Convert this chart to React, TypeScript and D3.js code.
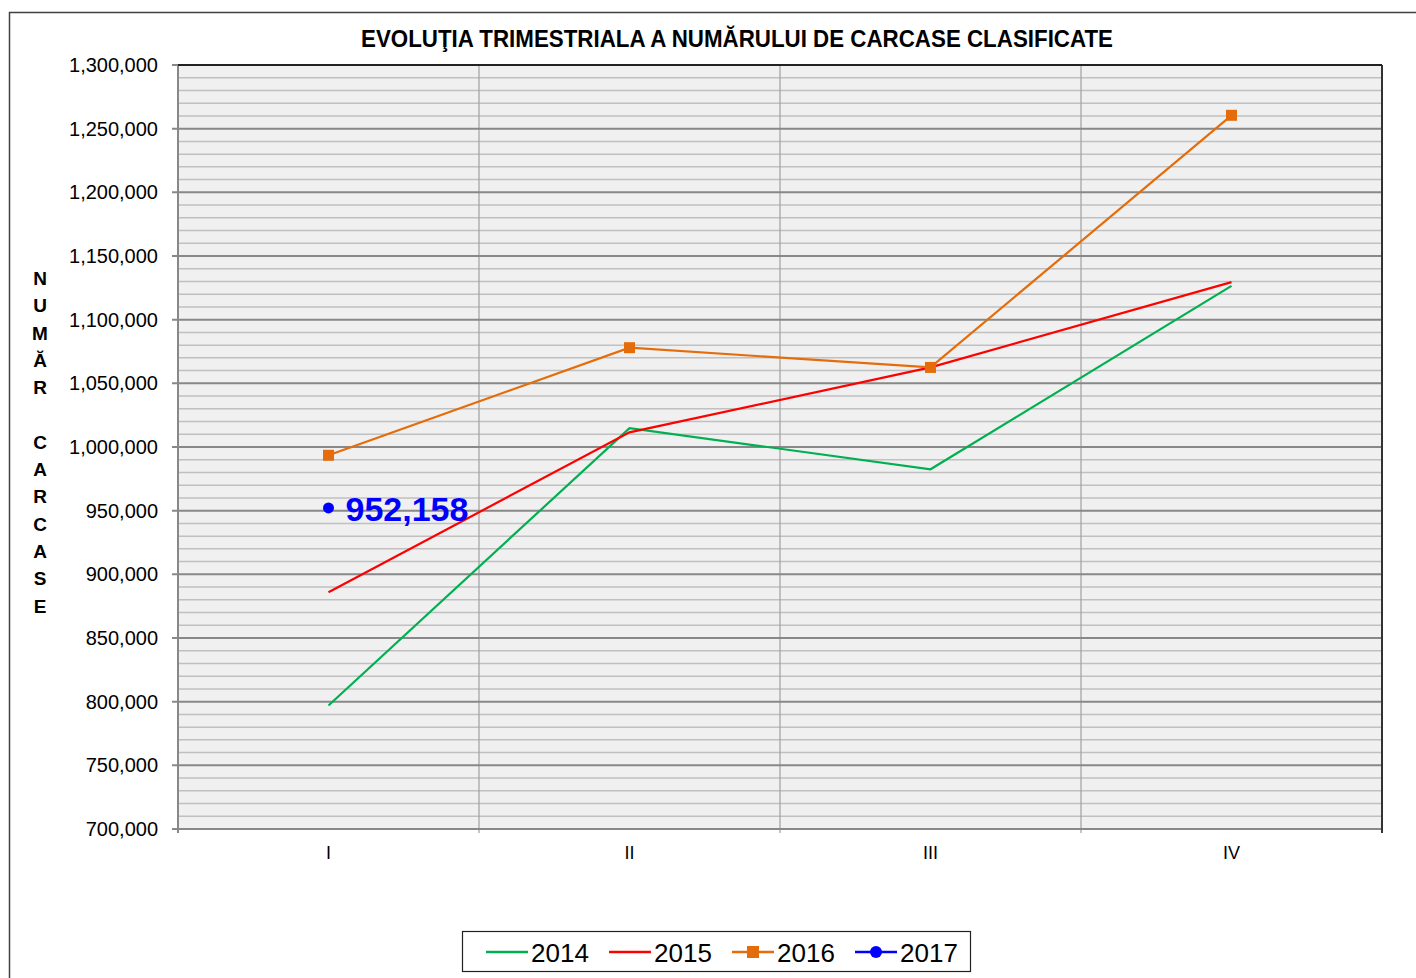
import * as d3 from 'd3'
import { useEffect, useRef } from 'react';

const quarters = ["I", "II", "III", "IV"];
const years = ["2014", "2015", "2016", "2017"];
const values2014 = [797000, 1014800, 982500, 1126500];
const values2015 = [886000, 1011500, 1062500, 1129500];
const values2016 = [993500, 1078000, 1062500, 1260500];
const values2017 = [952158];
const colors = ["#00B050", "#FF0000", "#E46C0A", "#0000FF"];
const yTicks = d3.range(700000, 1300001, 50000);
const yMinor = d3.range(700000, 1300001, 10000);
const yTitle = ["N", "U", "M", "Ă", "R", "", "C", "A", "R", "C", "A", "S", "E"];

function drawChart(svgEl: SVGSVGElement) {
    const svg = d3.select(svgEl);
    svg.selectAll("*").remove();
    const left = 178, right = 1382, top = 65, bottom = 829;

    const x = d3.scaleBand().domain(quarters).range([left, right]);
    const y = d3.scaleLinear().domain([700000, 1300000]).range([bottom, top]);
    const cx = (q: string) => x(q)! + x.bandwidth() / 2;

    // outer frame
    svg.append("rect").attr("x", 9.5).attr("y", 12.5)
        .attr("width", 1420).attr("height", 980)
        .attr("fill", "white").attr("stroke", "#404040").attr("stroke-width", 1.5);

    svg.append("text").attr("x", 737).attr("y", 47)
        .attr("text-anchor", "middle")
        .attr("font-family", "'Liberation Sans Narrow', 'Arial Narrow', 'Liberation Sans', sans-serif")
        .attr("font-weight", "bold").attr("font-size", 23)
        .text("EVOLUŢIA TRIMESTRIALA  A NUMĂRULUI DE CARCASE CLASIFICATE")
        .attr("textLength", 752).attr("lengthAdjust", "spacingAndGlyphs");

    // plot background
    svg.append("rect").attr("x", left).attr("y", top)
        .attr("width", right - left).attr("height", bottom - top)
        .attr("fill", "#F0F0F0");

    // minor grid
    svg.append("g").selectAll("line").data(yMinor.filter(v => v % 50000 !== 0)).enter()
        .append("line")
        .attr("x1", left).attr("x2", right)
        .attr("y1", d => y(d)).attr("y2", d => y(d))
        .attr("stroke", "#C0C0C0").attr("stroke-width", 1.5);

    // vertical grid at category boundaries
    svg.append("g").selectAll("line").data(quarters.slice(1)).enter()
        .append("line")
        .attr("x1", d => x(d)!).attr("x2", d => x(d)!)
        .attr("y1", top).attr("y2", bottom + 4)
        .attr("stroke", "#A0A0A0").attr("stroke-width", 1.2);

    // major grid
    svg.append("g").selectAll("line").data(yTicks).enter()
        .append("line")
        .attr("x1", left - 6).attr("x2", right)
        .attr("y1", d => y(d)).attr("y2", d => y(d))
        .attr("stroke", "#888888").attr("stroke-width", 2);

    // axes lines
    svg.append("line").attr("x1", left).attr("x2", left)
        .attr("y1", top).attr("y2", bottom + 4)
        .attr("stroke", "#888888").attr("stroke-width", 2);
    svg.append("line").attr("x1", right).attr("x2", right)
        .attr("y1", top).attr("y2", bottom + 4)
        .attr("stroke", "#333333").attr("stroke-width", 2);
    svg.append("line").attr("x1", left).attr("x2", right)
        .attr("y1", top).attr("y2", top)
        .attr("stroke", "#222222").attr("stroke-width", 2);

    // y tick labels
    const fmt = d3.format(",");
    svg.append("g").selectAll("text").data(yTicks).enter()
        .append("text")
        .attr("x", 158).attr("y", d => y(d) + 7)
        .attr("text-anchor", "end")
        .attr("font-family", "'Liberation Sans', Arial, sans-serif")
        .attr("font-size", 20)
        .text(d => fmt(d));

    // x labels
    svg.append("g").selectAll("text").data(quarters).enter()
        .append("text")
        .attr("x", d => cx(d)).attr("y", 859)
        .attr("text-anchor", "middle")
        .attr("font-family", "'Liberation Sans', Arial, sans-serif")
        .attr("font-size", 18)
        .text(d => d);

    // y title, stacked letters
    svg.append("g").selectAll("text").data(yTitle).enter()
        .append("text")
        .attr("x", 40).attr("y", (d, i) => 285 + i * 27.3)
        .attr("text-anchor", "middle")
        .attr("font-family", "'Liberation Sans', Arial, sans-serif")
        .attr("font-weight", "bold").attr("font-size", 19)
        .text(d => d);

    // series
    const series = [values2014, values2015, values2016, values2017];
    const line = d3.line<number>()
        .x((d, i) => cx(quarters[i]))
        .y(d => y(d));
    series.forEach((vals, si) => {
        if (vals.length > 1) {
            svg.append("path").datum(vals)
                .attr("d", line)
                .attr("fill", "none")
                .attr("stroke", colors[si]).attr("stroke-width", 2.2);
        }
    });
    svg.append("g").selectAll("rect").data(values2016).enter()
        .append("rect")
        .attr("x", (d, i) => cx(quarters[i]) - 5.5)
        .attr("y", d => y(d) - 5.5)
        .attr("width", 11).attr("height", 11)
        .attr("fill", colors[2]);
    svg.append("g").selectAll("circle").data(values2017).enter()
        .append("circle")
        .attr("cx", (d, i) => cx(quarters[i]))
        .attr("cy", d => y(d))
        .attr("r", 5.5)
        .attr("fill", colors[3]);
    svg.append("text")
        .attr("x", cx(quarters[0]) + 17).attr("y", y(values2017[0]) + 13)
        .attr("font-family", "'Liberation Sans', Arial, sans-serif")
        .attr("font-weight", "bold").attr("font-size", 34)
        .attr("fill", colors[3])
        .text(fmt(values2017[0]));

    // legend
    const lg = svg.append("g");
    lg.append("rect").attr("x", 462.5).attr("y", 931.5)
        .attr("width", 508).attr("height", 40)
        .attr("fill", "white").attr("stroke", "#222222").attr("stroke-width", 1.2);
    years.forEach((yr, i) => {
        const x0 = 486 + i * 123;
        const gy = 952;
        lg.append("line").attr("x1", x0).attr("x2", x0 + 42)
            .attr("y1", gy).attr("y2", gy)
            .attr("stroke", colors[i]).attr("stroke-width", 2.5);
        if (i === 2) {
            lg.append("rect").attr("x", x0 + 21 - 6).attr("y", gy - 6)
                .attr("width", 12).attr("height", 12).attr("fill", colors[i]);
        }
        if (i === 3) {
            lg.append("circle").attr("cx", x0 + 21).attr("cy", gy)
                .attr("r", 6).attr("fill", colors[i]);
        }
        lg.append("text").attr("x", x0 + 45).attr("y", gy + 10)
            .attr("font-family", "'Liberation Sans', Arial, sans-serif")
            .attr("font-size", 26)
            .text(yr);
    });
}

function App() {
    const ref = useRef<SVGSVGElement>(null);
    useEffect(() => {
        if (ref.current) drawChart(ref.current);
    });

    return (
        <svg ref={ref} width="1416" height="978"
            style={{ position: "absolute", left: 0, top: 0, background: "white" }}>
        </svg>
    );
}

export default App;
